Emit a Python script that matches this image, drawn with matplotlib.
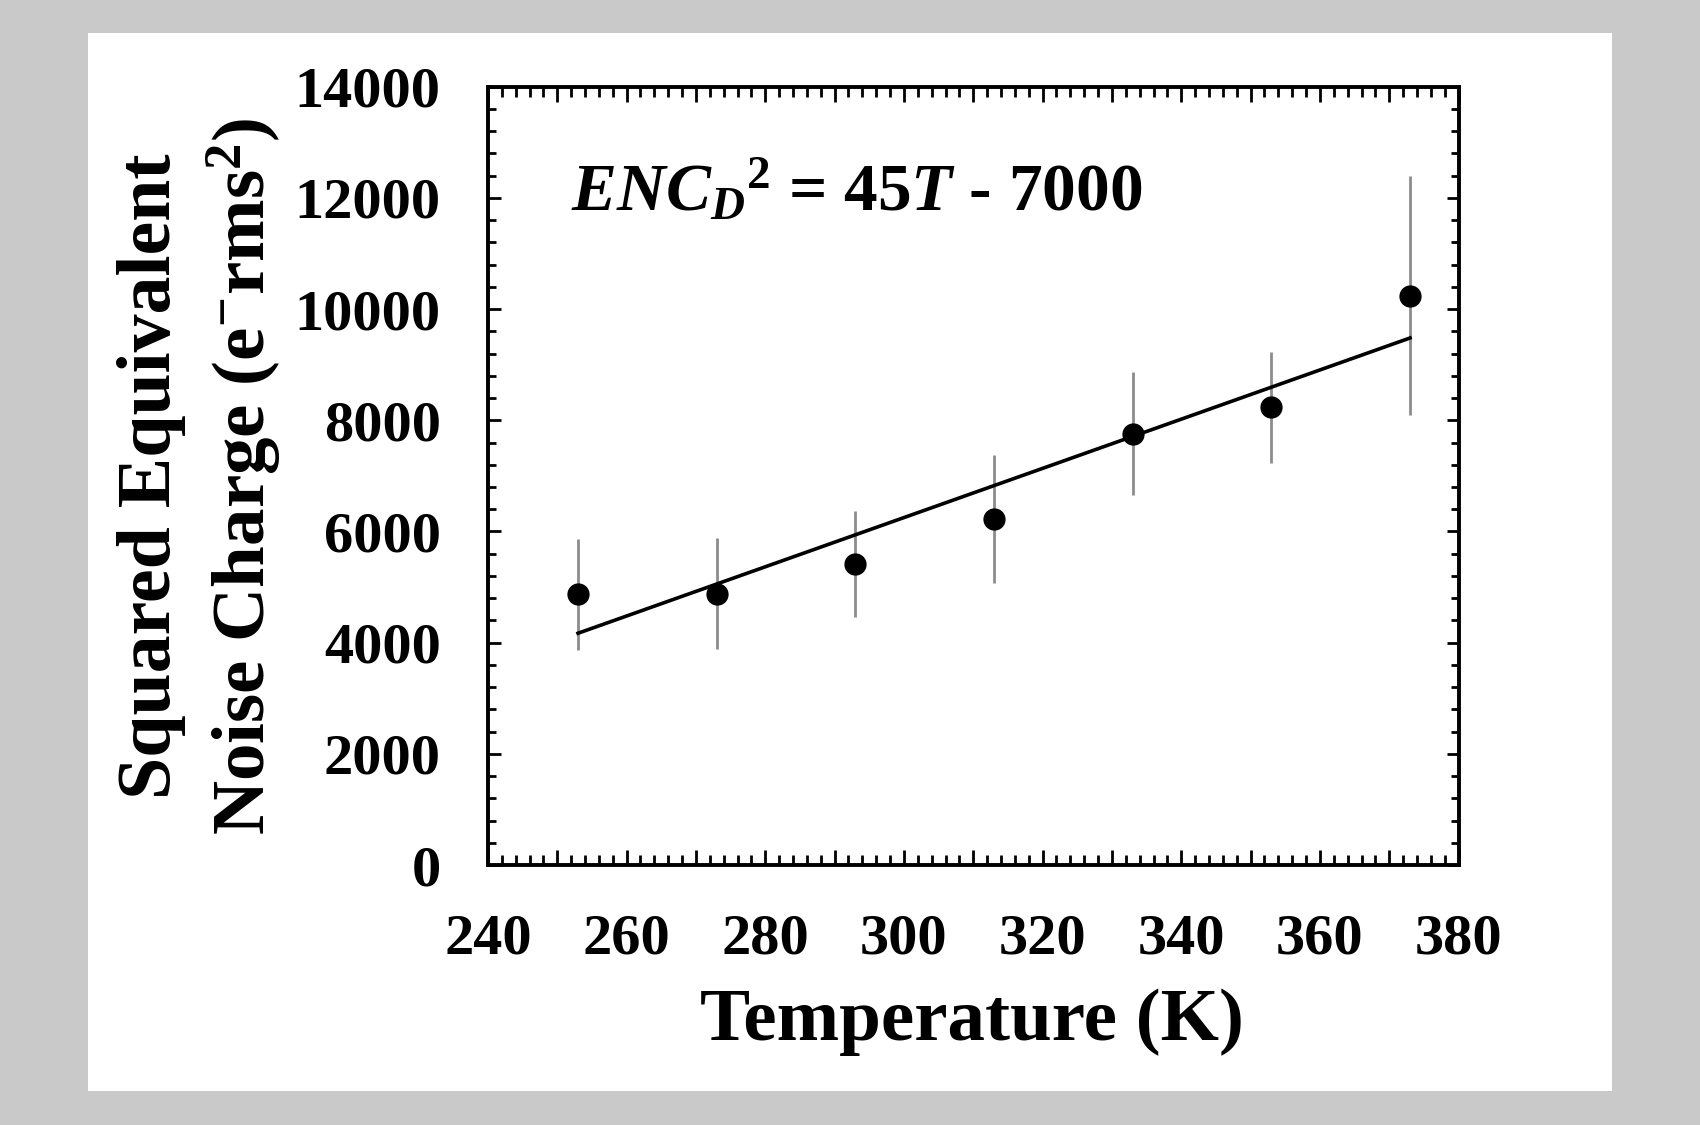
import numpy as np
import matplotlib
matplotlib.use("Agg")
import matplotlib.pyplot as plt
from matplotlib.ticker import MultipleLocator, FuncFormatter
from matplotlib.patches import Rectangle

# measured points (T in K, ENC_D^2 in e-rms^2)
temp_k = [253, 273, 293, 313, 333, 353, 373]
enc_sq = [4870, 4880, 5420, 6220, 7760, 8230, 10240]
enc_err = [1000, 1000, 950, 1150, 1110, 990, 2150]

# fitted line endpoints as drawn
fit_t = [253, 373]
fit_enc = [4170, 9480]

plt.rcParams["font.family"] = ["Liberation Serif", "DejaVu Serif"]
plt.rcParams["font.weight"] = "bold"
plt.rcParams["mathtext.fontset"] = "custom"
plt.rcParams["mathtext.rm"] = "Liberation Serif:bold"
plt.rcParams["mathtext.bf"] = "Liberation Serif:bold"
plt.rcParams["mathtext.it"] = "Liberation Serif:italic:bold"

fig = plt.figure(figsize=(17, 11.25), dpi=100, facecolor="#c9c9c9")
fig.patches.append(Rectangle((0.052, 0.030), 0.896, 0.941, transform=fig.transFigure,
                             facecolor="white", edgecolor="none", zorder=-1))

ax = fig.add_axes([0.287, 0.231, 0.571, 0.692])
ax.set_zorder(2)
ax.set_facecolor("white")

ax.errorbar(temp_k, enc_sq, yerr=enc_err, fmt="none", ecolor="#8c8c8c", elinewidth=2.0, capsize=0, zorder=2)
ax.plot(fit_t, fit_enc, color="black", lw=2.6, zorder=3)
ax.plot(temp_k, enc_sq, "o", color="black", ms=15, zorder=4)

ax.set_xlim(240, 380)
ax.set_ylim(0, 14000)
ax.xaxis.set_major_locator(MultipleLocator(10))
ax.xaxis.set_minor_locator(MultipleLocator(2))
ax.xaxis.set_major_formatter(FuncFormatter(lambda v, p: f"{int(round(v))}" if int(round(v)) % 20 == 0 else ""))
ax.yaxis.set_major_locator(MultipleLocator(2000))
ax.yaxis.set_minor_locator(MultipleLocator(400))

for s in ax.spines.values():
    s.set_linewidth(2.8)

ax.tick_params(which="both", direction="in", top=True, right=True, width=2.0)
ax.tick_params(axis="x", which="major", length=11, labelsize=42, pad=35)
ax.tick_params(axis="x", which="minor", length=7)
ax.tick_params(axis="y", which="major", length=9, labelsize=42, pad=34)
ax.tick_params(axis="y", which="minor", length=6)
for lab in ax.get_xticklabels() + ax.get_yticklabels():
    lab.set_fontweight("bold")

ax.text(0.086, 0.865, r"$\mathit{ENC}_{\mathit{D}}{}^{\mathrm{2}}$ = 45$\mathit{T}$ - 7000",
        transform=ax.transAxes, fontsize=48.5, ha="left", va="center")

fig.text(0.572, 0.0916, "Temperature (K)", fontsize=54, fontweight="bold", ha="center", va="center")
fig.text(0.0894, 0.577, "Squared Equivalent", fontsize=54.5, fontweight="bold",
         rotation=90, ha="center", va="center")
fig.text(0.1435, 0.577, r"Noise Charge (e$^{\mathrm{-}}$rms$^{\mathrm{2}}$)", fontsize=54, fontweight="bold",
         rotation=90, ha="center", va="center")

fig.savefig("out.png", dpi=100, facecolor=fig.get_facecolor())
